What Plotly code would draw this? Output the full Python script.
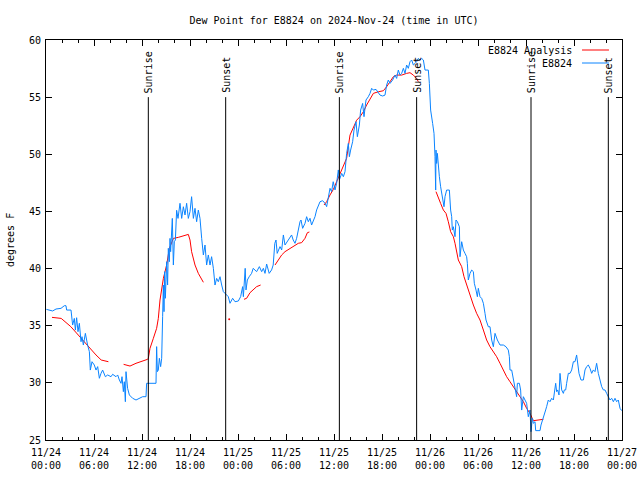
import pandas as pd
import plotly.graph_objects as go

# ---- data (hours since 2024-11-24 00:00 UTC) ----
obs_hours = [0.05, 0.83, 1.25, 1.875, 2.29, 2.5, 2.58, 3.125, 3.33, 3.54, 3.67, 3.83, 4.0, 4.17, 4.375, 4.5, 4.67, 4.92,
             5.2, 5.42, 5.54, 5.75, 6.04, 6.25, 6.46, 6.67, 6.875, 7.08, 7.42, 7.71, 8.125, 8.33, 8.75, 8.96, 9.17, 9.375,
             9.5, 9.67, 9.79, 9.92, 10.0, 10.2, 10.42, 10.625, 10.83, 11.25, 11.67, 12.08, 12.5, 12.58, 13.125,
             13.2, 13.75, 13.83, 13.92, 14.04, 14.17, 14.33, 14.46, 14.58, 14.67, 14.75, 14.83, 14.92, 15.08, 15.2,
             15.29, 15.42, 15.5, 15.58, 15.71, 15.79, 15.92, 16.04, 16.17, 16.33, 16.5, 16.75, 16.96, 17.17, 17.375,
             17.58, 17.79, 18.0, 18.2, 18.42, 18.625, 18.83, 19.04, 19.25, 19.46, 19.67, 19.875, 20.08, 20.29, 20.5,
             20.7, 20.92, 21.125, 21.33, 21.54, 21.75, 21.96, 22.17, 22.375, 22.58, 22.79, 23.0, 23.33, 23.625, 24.04,
             24.33, 24.58, 24.67, 24.8, 24.9, 25.0, 25.17, 25.4, 25.7, 25.9, 26.33, 26.67, 26.96, 27.17, 27.375,
             27.58, 27.9, 28.2, 28.4, 28.6, 28.75, 28.9, 29.25, 29.46, 29.67, 29.875, 30.17, 30.5, 30.7, 30.9, 31.125,
             31.33, 31.54, 31.75, 31.875, 32.08, 32.375, 32.58, 32.79, 33.0, 33.2, 33.4, 33.625, 33.83, 34.04, 34.25,
             34.58, 34.875, 35.08, 35.29, 35.5, 35.7, 35.9, 36.125, 36.33, 36.54, 36.67, 36.96, 37.17, 37.375, 37.58,
             37.79, 37.92, 38.08, 38.33, 38.5, 38.75, 38.92, 39.17, 39.33, 39.58, 39.75, 40.0, 40.29, 40.5, 40.71,
             40.92, 41.25, 41.54, 41.75, 42.08, 42.375, 42.58, 42.79, 43.0, 43.33, 43.625, 43.83, 44.04, 44.25, 44.46,
             44.67, 44.875, 45.08, 45.29, 45.5, 45.71, 45.92, 46.125, 46.33, 46.54, 46.75, 46.96, 47.17, 47.375,
             47.79, 47.92, 48.08, 48.33, 48.5, 48.625, 48.71, 48.75, 48.83, 48.92, 49.04, 49.17, 49.33, 49.58, 49.75,
             49.875, 50.08, 50.42, 50.5, 50.58, 50.71, 50.79, 50.92, 51.125, 51.25, 51.42, 51.67, 51.75, 51.96, 52.17,
             52.375, 52.58, 52.67, 52.79, 53.0, 53.21, 53.42, 53.54, 53.75, 53.92, 54.04, 54.25, 54.46, 54.67, 54.875,
             55.0, 55.29, 55.5, 55.71, 55.92, 56.125, 56.42, 56.75, 57.17, 57.5, 57.79, 57.92, 58.0, 58.21, 58.42,
             58.625, 58.83, 58.92, 59.17, 59.33, 59.46, 59.67, 59.875, 60.08, 60.29, 60.5,
             60.625, 60.79, 60.92, 61.125, 61.21, 61.46, 61.75, 61.875, 62.04, 62.29, 62.46, 62.58, 62.79, 63.0, 63.21,
             63.42, 63.54, 63.71, 63.83, 63.96, 64.125, 64.25, 64.46, 64.67, 64.79, 64.96, 65.08, 65.29, 65.5, 65.71,
             65.92, 66.125, 66.33, 66.46, 66.625, 66.875, 67.17, 67.375, 67.58, 67.79, 68.0, 68.21, 68.42, 68.625,
             68.83, 69.04, 69.25, 69.46, 69.67, 69.875, 70.08, 70.29, 70.5, 70.71, 70.92, 71.125, 71.33, 71.54, 71.75,
             71.96]
obs_dewpt = [36.43, 36.29, 36.46, 36.52, 36.75, 36.75, 36.37, 36.37, 35.06, 35.64, 34.62, 35.7, 34.48, 35.21, 33.6, 34.04,
             33.31, 34.33, 33.31, 32.73, 31.12, 31.85, 31.56, 31.12, 31.42, 30.4, 30.83, 31.12, 30.54, 30.69, 30.54,
             30.75, 30.54, 30.69, 30.25, 29.96, 30.54, 29.23, 30.1, 28.35, 30.98, 29.52, 28.94, 28.79, 28.65, 28.5,
             28.65, 28.79, 28.79, 29.96, 29.96,
             29.96, 29.96, 33.17, 30.98, 31.12, 32.15, 31.42, 32.15, 35.79, 38.56, 36.23, 39.73, 37.4, 40.6, 38.56,
             41.77, 40.6, 42.64, 41.48, 43.81, 44.39, 40.31, 42.35, 42.5, 45.1, 44.39, 45.71, 44.39, 45.41, 44.69,
             45.71, 44.39, 44.98, 46.29, 44.39, 45.27, 44.1, 45.12, 44.39, 42.64, 41.19, 42.06, 40.31, 41.19, 40.31,
             41.04, 40.02, 38.56, 39.14, 38.85, 39.29, 38.56, 37.98, 37.83, 37.69, 37.54, 36.96, 37.4, 37.1, 37.16,
             37.54, 38.42, 37.54, 39.58, 40.02, 38.13, 39.0, 39.29, 39.58, 40.02, 39.73, 40.17, 39.73, 40.02, 39.58,
             40.4, 39.58, 39.88, 40.31, 42.21, 42.5, 41.33, 41.92, 41.63, 42.94, 42.06, 42.36, 42.79, 42.94, 42.5, 42.21,
             42.65, 43.52, 44.1, 44.25, 43.52, 43.96, 44.54, 44.1, 44.4, 43.81, 44.1, 44.54, 45.13, 45.56, 45.85,
             45.94, 45.71, 45.42, 46.29, 47.02, 46.73, 47.6, 46.88, 47.46, 48.63, 47.75, 48.33, 48.04, 48.48, 50.08,
             50.95, 49.79, 50.37, 51.1, 52.12, 52.85, 51.54, 52.56, 53.87, 54.45, 53.29, 54.75, 55.04, 55.33, 55.77,
             55.62, 55.68, 55.33, 55.18, 55.1, 55.18, 56.06, 56.5, 56.2, 56.5, 56.93, 56.64, 57.37, 56.93, 57.08,
             57.52, 57.08, 57.81, 57.52, 58.1, 58.25, 57.81, 57.95, 58.1, 58.39, 58.25, 58.39, 58.25, 57.37,
             57.37, 56.2, 53.87, 52.7, 51.83, 49.79, 46.87, 50.37, 49.2, 50.08, 48.62, 48.04, 47.16, 46.29, 45.41,
             46.29, 46.87, 46.87, 45.7, 45.12, 44.54, 43.37, 43.66, 42.79, 44.25, 44.1, 43.66, 41.04, 42.35, 41.62,
             41.33, 41.04, 40.46, 39.0, 39.58, 39.87, 39.73, 38.71, 38.12, 37.54, 38.27, 37.54, 37.39, 36.96, 36.08,
             35.5, 34.91, 34.91, 33.75, 33.16, 34.33, 33.75, 33.31, 33.31, 33.16, 32.87, 32.29, 31.12, 31.12, 30.25,
             29.67, 28.79, 29.96, 29.96, 29.37, 27.62, 28.79, 28.5, 28.21, 27.04, 27.62,
             25.73, 26.9, 26.46, 26.6, 25.82, 25.82, 25.82, 26.31, 26.75, 27.19, 27.63, 27.92, 28.5, 28.35, 28.65,
             28.5, 29.08, 29.96, 29.23, 29.38, 28.94, 30.83, 29.38, 29.08, 29.38, 29.38, 29.96, 30.83, 30.83, 31.13,
             31.85, 31.85, 32.44, 31.42, 30.83, 30.25, 30.25, 31.13, 31.42, 31.56, 31.27, 30.83, 31.13, 30.98,
             31.71, 30.83, 30.25, 29.67, 29.38, 29.38, 29.08, 28.79, 28.5, 28.65, 28.35, 28.65, 28.35, 28.5, 27.77,
             27.57]

ana_hours = [0.75, 1.9, 3.1, 4.2, 5.2, 6.25, 6.9, 7.8, 8.7,
             9.7, 10.5, 11.25, 12.1, 12.7, 12.79, 13.0, 13.42, 13.83, 14.04, 14.25, 14.67, 15.08, 15.42, 15.92,
             16.54, 17.17, 17.79, 18.0, 18.2, 18.625, 19.04, 19.67, 22.0,
             24.75, 25.08, 25.5, 25.92, 26.33, 26.83, 27.7,
             28.625, 29.04, 29.46, 29.875, 30.5, 31.125, 31.54, 31.96, 32.375, 32.67, 32.92, 33.8,
             34.75, 35.08, 35.5, 35.92, 36.33, 36.75, 37.17, 37.58, 38.0, 38.42, 38.83, 39.25, 39.67, 40.08, 40.5,
             40.92, 41.54, 42.17, 42.58, 43.0, 43.42, 43.83, 44.46, 45.08, 45.5, 45.92, 46.33, 46.54, 47.6,
             48.75, 49.04, 49.33, 49.67, 50.0, 50.29, 50.58, 50.92, 51.125, 51.54, 51.96, 52.25, 52.58, 53.0, 53.42,
             53.83, 54.25, 54.67, 55.08, 55.5, 55.92, 56.33, 56.75, 57.17, 57.58, 58.0, 58.42, 58.83, 59.25, 59.67,
             60.08, 60.5, 60.92, 61.54, 62.17]
ana_dewpt = [35.73, 35.64, 34.92, 34.04, 33.31, 32.44, 32.0, 31.85, None,
             31.62, 31.47, 31.71, 31.91, 32.06, 32.15, 33.02, 33.9, 34.77, 35.64, 37.25, 39.14, 40.31, 41.77, 42.64,
             42.73, 42.85, 42.99, 42.5, 41.48, 40.31, 39.58, 38.8, None,
             37.31, 37.4, 37.89, 38.18, 38.42, 38.56, None,
             40.31, 40.75, 41.19, 41.48, 41.77, 42.06, 42.21, 42.27, 42.65, 43.14, 43.2, None,
             45.56, 45.85, 46.44, 46.93, 47.6, 48.33, 48.92, 49.65, 51.68, 52.41, 52.98, 53.29, 53.72, 54.31, 54.89,
             55.33, 55.47, 55.56, 55.91, 56.35, 56.79, 56.93, 56.93, 57.08, 57.14, 56.93, 56.64, 56.35, None,
             46.73, 46.29, 45.7, 45.12, 44.83, 44.1, 43.23, 42.79, 42.21, 40.75, 40.17, 39.29, 38.56, 37.83, 36.81,
             36.08, 35.5, 34.62, 33.75, 33.16, 32.73, 32.29, 31.71, 31.12, 30.54, 30.1, 29.67, 29.23, 28.79, 28.35,
             27.77, 27.33, 26.69, 26.75, 26.81]

# lone analysis point
ana_dot_hours = [22.9]
ana_dot_dewpt = [35.56]

sun_hours = [12.79, 22.46, 36.67, 46.33, 60.625, 70.29]
sun_labels = ["Sunrise", "Sunset", "Sunrise", "Sunset", "Sunrise", "Sunset"]

base = pd.Timestamp("2024-11-24 00:00")
to_t = lambda hs: [base + pd.Timedelta(hours=h) for h in hs]

FONT = "DejaVu Sans Mono"
RED = "#ff0000"
BLUE = "#0a84ff"

fig = go.Figure()
fig.add_trace(go.Scatter(x=to_t(ana_hours), y=ana_dewpt, mode="lines", name="E8824 Analysis",
                         line=dict(color=RED, width=1), connectgaps=False, showlegend=False))
fig.add_trace(go.Scatter(x=to_t(ana_dot_hours), y=ana_dot_dewpt, mode="markers",
                         marker=dict(color=RED, size=2), showlegend=False))
fig.add_trace(go.Scatter(x=to_t(obs_hours), y=obs_dewpt, mode="lines", name="E8824",
                         line=dict(color=BLUE, width=1), showlegend=False))

for h, lab in zip(sun_hours, sun_labels):
    t = base + pd.Timedelta(hours=h)
    fig.add_shape(type="line", x0=t, x1=t, y0=25, y1=55, xref="x", yref="y",
                  line=dict(color="black", width=1))
    fig.add_annotation(x=t, y=55, xref="x", yref="y", text=lab, textangle=-90, showarrow=False,
                       xanchor="center", yanchor="bottom", yshift=2, font=dict(family=FONT, size=10, color="black"))

# legend drawn gnuplot-style (text, then sample line)
legend_items = [("E8824 Analysis", RED, 0.975), ("E8824", BLUE, 0.9425)]
for name, col, yy in legend_items:
    fig.add_annotation(x=0.9167, y=yy, xref="paper", yref="paper", text=name, showarrow=False,
                       xanchor="right", yanchor="middle", font=dict(family=FONT, size=10, color="black"))
    fig.add_shape(type="line", x0=0.9306, x1=0.9774, y0=yy, y1=yy, xref="paper", yref="paper",
                  line=dict(color=col, width=1))

fig.add_annotation(x=-0.0625, y=0.5, xref="paper", yref="paper", text="degrees F", textangle=-90,
                   showarrow=False, xanchor="center", yanchor="middle",
                   font=dict(family=FONT, size=10, color="black"))

fig.update_layout(
    width=640, height=480, autosize=False,
    margin=dict(l=46, r=18, t=40, b=40, autoexpand=False),
    paper_bgcolor="white", plot_bgcolor="white",
    font=dict(family=FONT, size=10, color="black"),
    title=dict(text="Dew Point for E8824 on 2024-Nov-24 (time in UTC)", x=0.5, xref="paper",
               y=1 - 20 / 480, yref="container", yanchor="middle",
               font=dict(family=FONT, size=10, color="black")),
    showlegend=False,
)
fig.update_xaxes(
    type="date", range=[base, base + pd.Timedelta(hours=72)], automargin=False,
    dtick=6 * 3600 * 1000, tick0=base, tickformat="%m/%d<br>%H:%M", ticklabelstandoff=3,
    ticks="inside", ticklen=6, tickcolor="black", showline=True, linecolor="black", linewidth=1,
    mirror="ticks", showgrid=False, zeroline=False,
    minor=dict(dtick=2 * 3600 * 1000, ticks="inside", ticklen=3, tickcolor="black", showgrid=False),
    tickfont=dict(family=FONT, size=10, color="black"),
)
fig.update_yaxes(
    range=[25, 60], dtick=5, ticks="inside", ticklen=6, tickcolor="black", automargin=False,
    ticklabelstandoff=2,
    showline=True, linecolor="black", linewidth=1, mirror="ticks", showgrid=False, zeroline=False,
    tickfont=dict(family=FONT, size=10, color="black"),
)

fig.write_html("out.html", config={"displayModeBar": False, "responsive": False},
               post_script="document.body.style.margin='0';")
